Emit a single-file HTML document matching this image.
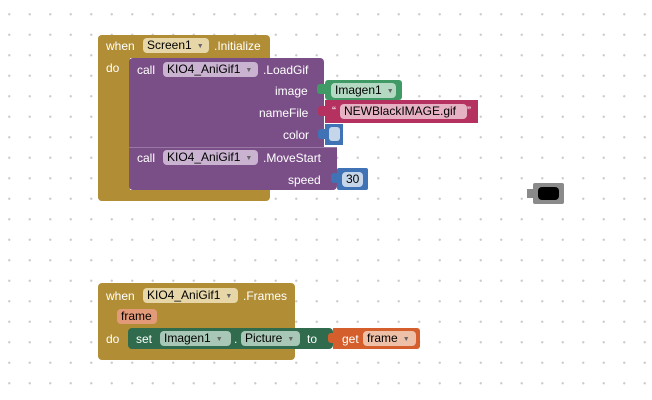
<!DOCTYPE html>
<html><head><style>
body{margin:0;width:652px;height:400px;overflow:hidden;background:#fff;
background-image:radial-gradient(circle,#ccc 1px,transparent 1.3px);background-size:20.5px 20.5px;background-position:-1px 4px;
font-family:"Liberation Sans",sans-serif;font-size:12px;color:#fff;position:relative}
.b{position:absolute;box-sizing:border-box}
.t{position:absolute;white-space:nowrap;line-height:14px}
.dd{position:absolute;border-radius:4px;line-height:15px;height:15px;padding:0 4px;color:#000;white-space:nowrap;box-sizing:border-box}
.dd i{font-style:normal;font-size:7px;color:#666;margin-left:5px;vertical-align:1px}
</style></head><body>
<!-- block 1 gold -->
<div class="b" style="left:98px;top:35px;width:172px;height:23px;background:#b18e35;border-radius:4px 4px 0 0"></div>
<div class="b" style="left:98px;top:35px;width:32px;height:166px;background:#b18e35;border-radius:4px 0 0 4px"></div>
<div class="b" style="left:98px;top:190px;width:172px;height:11px;background:#b18e35;border-radius:0 0 4px 4px"></div>
<div class="t" style="left:106px;top:39px">when</div>
<div class="dd" style="left:143px;top:38px;width:66px;background:#e6d6a8">Screen1<i>▼</i></div>
<div class="t" style="left:214px;top:39px">.Initialize</div>
<div class="t" style="left:106px;top:61px">do</div>
<!-- purple -->
<div class="b" style="left:129px;top:58px;width:195px;height:90px;background:#7a4f87;border-radius:4px 4px 0 0"></div>
<div class="b" style="left:129px;top:147px;width:208px;height:43px;background:#7a4f87;border-radius:0 0 4px 4px;border-top:1px solid #9a78a6"></div>
<div class="t" style="left:137px;top:63px">call</div>
<div class="dd" style="left:163px;top:62px;width:95px;background:#c9b3d0">KIO4_AniGif1<i>▼</i></div>
<div class="t" style="left:263px;top:63px">.LoadGif</div>
<div class="t" style="left:275px;top:84px">image</div>
<div class="t" style="left:259px;top:106px">nameFile</div>
<div class="t" style="left:283px;top:128px">color</div>
<div class="t" style="left:137px;top:151px">call</div>
<div class="dd" style="left:163px;top:150px;width:95px;background:#c9b3d0">KIO4_AniGif1<i>▼</i></div>
<div class="t" style="left:263px;top:151px">.MoveStart</div>
<div class="t" style="left:288px;top:173px">speed</div>
<!-- green -->
<div class="b" style="left:325px;top:80px;width:77px;height:20px;background:#3f9a66;border-radius:3px"></div>
<div class="dd" style="left:331px;top:83px;width:65px;background:#b4d9c2">Imagen1<i>▼</i></div>
<div class="b" style="left:317px;top:84px;width:8px;height:10px;background:#3f9a66;border-radius:3px 0 0 3px"></div>
<!-- pink -->
<div class="b" style="left:325px;top:100px;width:153px;height:23px;background:#b5315f"></div>
<div class="b" style="left:318px;top:106px;width:8px;height:10px;background:#b5315f;border-radius:3px 0 0 3px"></div>
<div class="t" style="left:332px;top:104px">“</div>
<div class="dd" style="left:340px;top:104px;width:127px;background:#e5b1c3">NEWBlackIMAGE.gif</div>
<div class="t" style="left:467px;top:104px">”</div>
<!-- color -->
<div class="b" style="left:325px;top:124px;width:18px;height:21px;background:#3f73b5"></div>
<div class="b" style="left:318px;top:129px;width:8px;height:10px;background:#3f73b5;border-radius:3px 0 0 3px"></div>
<div class="b" style="left:329px;top:127px;width:11px;height:14px;background:#c6d6ea;border-radius:3px"></div>
<!-- speed -->
<div class="b" style="left:337px;top:168px;width:31px;height:22px;background:#3f73b5;border-radius:2px"></div>
<div class="b" style="left:331px;top:173px;width:7px;height:10px;background:#3f73b5;border-radius:3px 0 0 3px"></div>
<div class="dd" style="left:342px;top:172px;width:21px;background:#c6d6ea">30</div>
<!-- collapsed block -->
<div class="b" style="left:533px;top:183px;width:31px;height:21px;background:#8a8a8a;border-radius:2px"></div>
<div class="b" style="left:527px;top:189px;width:7px;height:9px;background:#8a8a8a"></div>
<div class="b" style="left:538px;top:187px;width:21px;height:13px;background:#000;border-radius:4px"></div>
<!-- block 2 gold -->
<div class="b" style="left:98px;top:283px;width:197px;height:77px;background:#b18e35;border-radius:4px"></div>
<div class="t" style="left:106px;top:289px">when</div>
<div class="dd" style="left:143px;top:288px;width:95px;background:#e6d6a8">KIO4_AniGif1<i>▼</i></div>
<div class="t" style="left:243px;top:289px">.Frames</div>
<div class="dd" style="left:117px;top:309px;width:40px;background:#e39a78;color:#000;padding-left:4px">frame</div>
<div class="t" style="left:106px;top:332px">do</div>
<div class="b" style="left:128px;top:328px;width:205px;height:21px;background:#2f6b4c;border-radius:4px"></div>
<div class="t" style="left:136px;top:332px">set</div>
<div class="dd" style="left:160px;top:331px;width:71px;background:#a8c7b6">Imagen1<i>▼</i></div>
<div class="t" style="left:234px;top:332px">.</div>
<div class="dd" style="left:241px;top:331px;width:59px;background:#a8c7b6">Picture<i>▼</i></div>
<div class="t" style="left:307px;top:332px">to</div>
<div class="b" style="left:333px;top:328px;width:87px;height:21px;background:#d45e2c;border-radius:0 3px 3px 0"></div>
<div class="b" style="left:328px;top:333px;width:6px;height:10px;background:#d45e2c;border-radius:3px 0 0 3px"></div>
<div class="t" style="left:342px;top:332px">get</div>
<div class="dd" style="left:363px;top:331px;width:53px;background:#efc0a8">frame<i>▼</i></div>
</body></html>
